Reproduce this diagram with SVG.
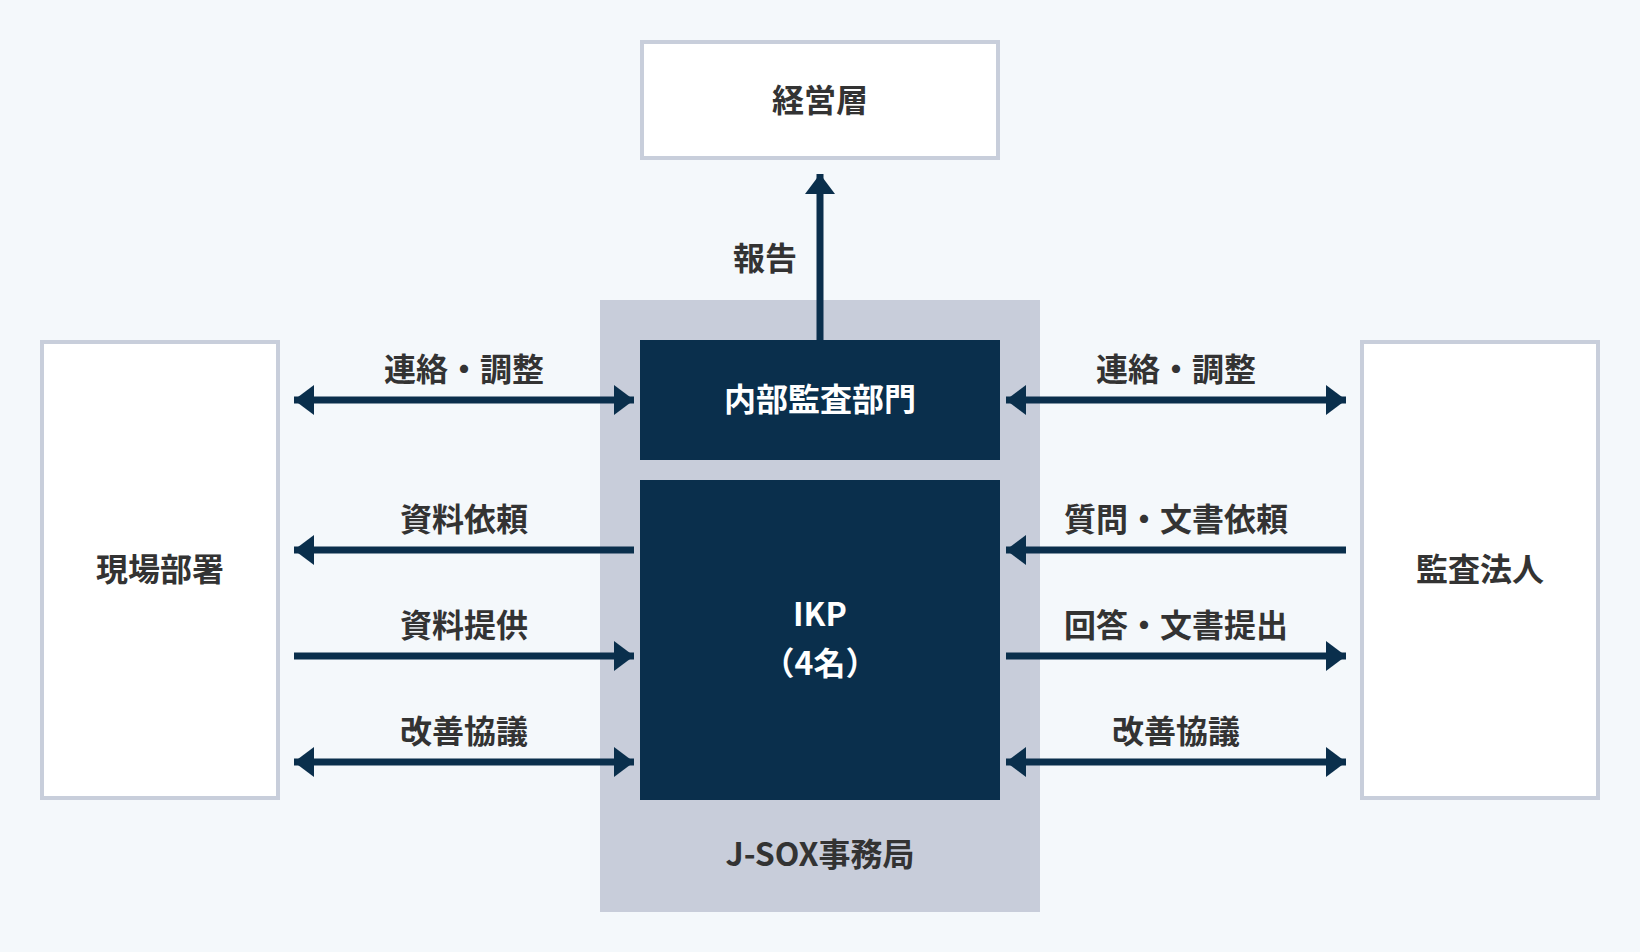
<svg xmlns="http://www.w3.org/2000/svg" width="1640" height="952" viewBox="0 0 1640 952">
<defs>
<style>
.bg{fill:#f4f8fb}
.box{fill:#ffffff;stroke:#c8cedb;stroke-width:4}
.dark{fill:#0a2f4c}
.grp{fill:#c8cdda}
.t{font-family:"Noto Sans CJK JP","Noto Sans",sans-serif;font-weight:700;font-size:32px;fill:#333333;text-anchor:middle;dominant-baseline:central}
.w{fill:#ffffff}
.ln{stroke:#0a2f4c;stroke-width:7;fill:none}
</style>
<marker id="ah" viewBox="0 0 20 30" refX="20" refY="15" markerWidth="20" markerHeight="30" markerUnits="userSpaceOnUse" orient="auto-start-reverse">
<path d="M0,0 L20,15 L0,30 Z" fill="#0a2f4c"/>
</marker>
</defs>
<rect class="bg" x="0" y="0" width="1640" height="952"/>
<g id="jsox">
<rect class="grp" x="600" y="300" width="440" height="612"/>
<text class="t" x="820" y="852">J-SOX事務局</text>
</g>
<g id="keiei">
<rect class="box" x="642" y="42" width="356" height="116"/>
<text class="t" x="820" y="98">経営層</text>
</g>
<g id="naibu">
<rect class="dark" x="640" y="340" width="360" height="120"/>
<text class="t w" x="820" y="397">内部監査部門</text>
</g>
<g id="ikp">
<rect class="dark" x="640" y="480" width="360" height="320"/>
<text class="t w" x="820" y="612">IKP</text>
<text class="t w" x="820" y="661">（4名）</text>
</g>
<g id="genba">
<rect class="box" x="42" y="342" width="236" height="456"/>
<text class="t" x="160" y="567">現場部署</text>
</g>
<g id="kansa">
<rect class="box" x="1362" y="342" width="236" height="456"/>
<text class="t" x="1480" y="567">監査法人</text>
</g>
<g id="connectors">
<line class="ln" x1="820" y1="340" x2="820" y2="174" marker-end="url(#ah)"/>
<line class="ln" x1="294" y1="400" x2="634" y2="400" marker-start="url(#ah)" marker-end="url(#ah)"/>
<line class="ln" x1="634" y1="550" x2="294" y2="550" marker-end="url(#ah)"/>
<line class="ln" x1="294" y1="656" x2="634" y2="656" marker-end="url(#ah)"/>
<line class="ln" x1="294" y1="762" x2="634" y2="762" marker-start="url(#ah)" marker-end="url(#ah)"/>
<line class="ln" x1="1006" y1="400" x2="1346" y2="400" marker-start="url(#ah)" marker-end="url(#ah)"/>
<line class="ln" x1="1346" y1="550" x2="1006" y2="550" marker-end="url(#ah)"/>
<line class="ln" x1="1006" y1="656" x2="1346" y2="656" marker-end="url(#ah)"/>
<line class="ln" x1="1006" y1="762" x2="1346" y2="762" marker-start="url(#ah)" marker-end="url(#ah)"/>
</g>
<g id="labels">
<text class="t" x="765" y="256">報告</text>
<text class="t" x="464" y="367">連絡・調整</text>
<text class="t" x="464" y="517">資料依頼</text>
<text class="t" x="464" y="623">資料提供</text>
<text class="t" x="464" y="729">改善協議</text>
<text class="t" x="1176" y="367">連絡・調整</text>
<text class="t" x="1176" y="517">質問・文書依頼</text>
<text class="t" x="1176" y="623">回答・文書提出</text>
<text class="t" x="1176" y="729">改善協議</text>
</g>
</svg>
